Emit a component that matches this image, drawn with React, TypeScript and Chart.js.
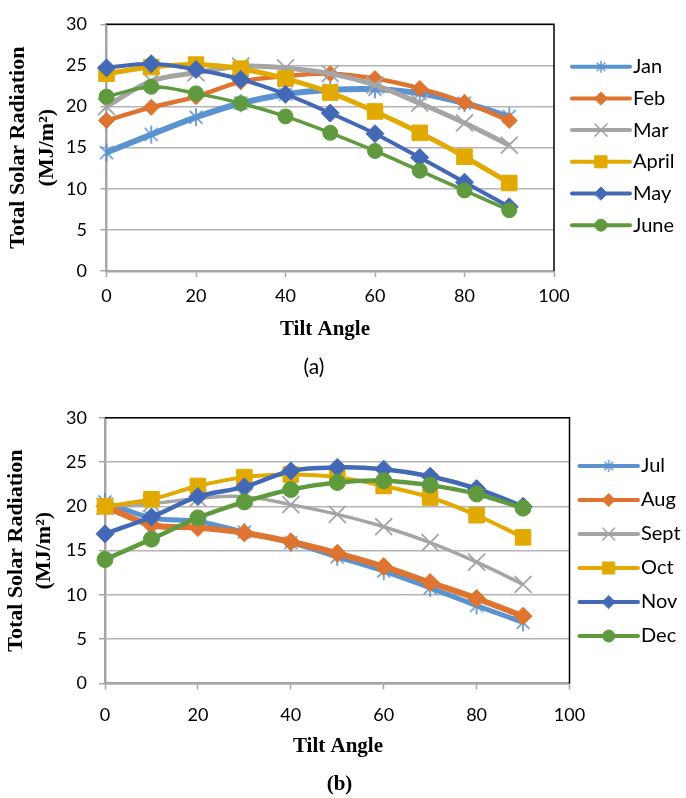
import React, { useEffect, useRef } from 'react';
import { Chart, registerables } from 'chart.js';
import { drawPoint } from 'chart.js/helpers';

Chart.register(...registerables);

// ---------- data ----------
const tiltAngles = [0, 10, 20, 30, 40, 50, 60, 70, 80, 90];

const monthsA = ['Jan', 'Feb', 'Mar', 'April', 'May', 'June'];
const janValues = [14.4, 16.6, 18.7, 20.4, 21.5, 22.0, 22.1, 21.6, 20.4, 18.8];
const febValues = [18.3, 19.9, 21.2, 23.0, 23.7, 24.0, 23.4, 22.2, 20.5, 18.3];
const marValues = [20.0, 23.1, 24.1, 24.9, 24.7, 24.0, 22.6, 20.4, 18.0, 15.3];
const aprValues = [24.0, 24.8, 25.1, 24.6, 23.4, 21.7, 19.4, 16.8, 13.9, 10.7];
const mayValues = [24.7, 25.2, 24.5, 23.3, 21.5, 19.2, 16.7, 13.8, 10.8, 7.8];
const junValues = [21.2, 22.4, 21.6, 20.4, 18.8, 16.8, 14.6, 12.2, 9.8, 7.4];

const monthsB = ['Jul', 'Aug', 'Sept', 'Oct', 'Nov', 'Dec'];
const julValues = [20.5, 18.7, 18.3, 17.1, 15.9, 14.3, 12.7, 10.8, 8.8, 6.9];
const augValues = [20.0, 17.9, 17.6, 17.0, 16.0, 14.7, 13.2, 11.4, 9.6, 7.6];
const sepValues = [20.0, 20.3, 20.9, 21.1, 20.2, 19.1, 17.7, 15.9, 13.7, 11.2];
const octValues = [20.0, 20.8, 22.3, 23.3, 23.6, 23.3, 22.3, 21.0, 19.0, 16.5];
const novValues = [16.9, 18.8, 21.1, 22.2, 24.0, 24.4, 24.2, 23.4, 22.0, 20.0];
const decValues = [14.0, 16.3, 18.7, 20.5, 21.9, 22.7, 22.9, 22.4, 21.4, 19.8];

const xMin = 0;
const xMax = 100;
const xStep = 20;
const yMin = 0;
const yMax = 30;
const yStep = 5;

const yTitleLines = ['Total Solar Radiation', '(MJ/m\u00B2)'];
const xTitle = 'Tilt Angle';
const captionA = '(a)';
const captionB = '(b)';

// ---------- styles ----------
const seriesColors = ['#5A93CF', '#DE7430', '#A5A5A5', '#E2AA00', '#4369B6', '#5F9B3E'];
const markerKinds = ['asterisk', 'rectRot', 'crossRot', 'rect', 'rectRot', 'circle'];
const lineWidthsA = [6, 4.5, 5, 5, 4, 3.5];
const markerRadiiA = [10, 8, 12, 11, 9, 7.5];
const lineWidthsB = [5, 6, 3.5, 4, 4.5, 4.5];
const markerRadiiB = [10, 9, 12, 11, 9, 8];
const legendRadii = [7, 6.5, 8.5, 8.5, 6.5, 6];

const GRID = '#B4B4B4';
const AXIS = '#A6A6A6';
const SERIF = '"Liberation Serif", "Times New Roman", serif';
const SANS = 'Lato, "Open Sans", sans-serif';

function makeAsterisk(color: string, size: number, lw: number): HTMLCanvasElement {
  const c = document.createElement('canvas');
  c.width = size;
  c.height = size;
  const ctx = c.getContext('2d')!;
  const m = size / 2;
  const r = size / 2 - 1;
  const d = r * 0.72;
  ctx.strokeStyle = color;
  ctx.lineWidth = lw;
  ctx.lineCap = 'butt';
  ctx.beginPath();
  ctx.moveTo(m, m - r);
  ctx.lineTo(m, m + r);
  ctx.moveTo(m - d, m - d);
  ctx.lineTo(m + d, m + d);
  ctx.moveTo(m + d, m - d);
  ctx.lineTo(m - d, m + d);
  ctx.stroke();
  return c;
}

type Spec = {
  top: number;
  height: number;
  padTop: number;
  padRight: number;
  padBottom: number;
  yAxisWidth: number;
  xAxisHeight: number;
  yTickPad: number;
  xTickPad: number;
  yTitleLineHeight: number;
  yTitlePadTop: number;
  names: string[];
  values: number[][];
  lineWidths: number[];
  radii: number[];
  legendX1: number;
  legendX2: number;
  legendTextX: number;
  legendY0: number;
  legendStep: number;
  captions: { text: string; x: number; y: number; font: string }[];
};

const specA: Spec = {
  top: 0,
  height: 390,
  padTop: 19,
  padRight: 132,
  padBottom: 79,
  yAxisWidth: 106.5,
  xAxisHeight: 40,
  yTickPad: 13.5,
  xTickPad: 8,
  yTitleLineHeight: 1.32,
  yTitlePadTop: 3.5,
  names: monthsA,
  values: [janValues, febValues, marValues, aprValues, mayValues, junValues],
  lineWidths: lineWidthsA,
  radii: markerRadiiA,
  legendX1: 572,
  legendX2: 630,
  legendTextX: 633,
  legendY0: 66.7,
  legendStep: 31.7,
  captions: [
    { text: xTitle, x: 325, y: 330, font: `bold 21px ${SERIF}` },
    { text: captionA, x: 314, y: 367, font: `21px ${SANS}` },
  ],
};

const specB: Spec = {
  top: 395,
  height: 403,
  padTop: 21,
  padRight: 116.5,
  padBottom: 64.5,
  yAxisWidth: 105,
  xAxisHeight: 50,
  yTickPad: 12,
  xTickPad: 15,
  yTitleLineHeight: 1.273,
  yTitlePadTop: 2.7,
  names: monthsB,
  values: [julValues, augValues, sepValues, octValues, novValues, decValues],
  lineWidths: lineWidthsB,
  radii: markerRadiiB,
  legendX1: 579.5,
  legendX2: 638,
  legendTextX: 641,
  legendY0: 71,
  legendStep: 34,
  captions: [
    { text: xTitle, x: 338, y: 352, font: `bold 21px ${SERIF}` },
    { text: captionB, x: 339.5, y: 390, font: `bold 21px ${SERIF}` },
  ],
};

function SolarChart({ spec }: { spec: Spec }) {
  const ref = useRef<HTMLCanvasElement | null>(null);

  useEffect(() => {
    const canvas = ref.current;
    if (!canvas) return;

    const plotStars = spec.radii.map((r, i) =>
      markerKinds[i] === 'asterisk' ? makeAsterisk(seriesColors[i], Math.round(r * 2), 1.7) : null
    );
    const legendStars = legendRadii.map((r, i) =>
      markerKinds[i] === 'asterisk' ? makeAsterisk(seriesColors[i], Math.round(r * 2), 1.4) : null
    );

    const n = spec.names.length;
    const datasets = spec.names.map((name, i) => {
      const kind = markerKinds[i];
      const isStroke = kind === 'crossRot';
      return {
        label: name,
        data: tiltAngles.map((a, j) => ({ x: a, y: spec.values[i][j] })),
        borderColor: seriesColors[i],
        backgroundColor: seriesColors[i],
        borderWidth: spec.lineWidths[i],
        tension: 0.35,
        pointStyle: kind === 'asterisk' ? plotStars[i] : kind,
        pointRadius: spec.radii[i],
        pointBorderWidth: isStroke ? 1.8 : 1,
        pointBorderColor: seriesColors[i],
        pointBackgroundColor: seriesColors[i],
        clip: false as const,
        order: n - i,
      };
    });

    const overlay = {
      id: 'overlay',
      afterDraw(chart: any) {
        const { ctx, chartArea: a } = chart;
        ctx.save();
        // plot-area frame (top and right edges)
        ctx.strokeStyle = '#000';
        ctx.lineWidth = 1.5;
        ctx.beginPath();
        ctx.moveTo(a.left, a.top);
        ctx.lineTo(a.right, a.top);
        ctx.lineTo(a.right, a.bottom);
        ctx.stroke();

        // legend
        spec.names.forEach((name, i) => {
          const y = spec.legendY0 + i * spec.legendStep;
          const color = seriesColors[i];
          ctx.strokeStyle = color;
          ctx.lineWidth = 4;
          ctx.lineCap = 'round';
          ctx.beginPath();
          ctx.moveTo(spec.legendX1, y);
          ctx.lineTo(spec.legendX2, y);
          ctx.stroke();
          const cx = (spec.legendX1 + spec.legendX2) / 2;
          const kind = markerKinds[i];
          if (kind === 'asterisk') {
            const img = legendStars[i]!;
            ctx.drawImage(img, cx - img.width / 2, y - img.height / 2);
          } else {
            ctx.fillStyle = color;
            ctx.strokeStyle = color;
            ctx.lineWidth = kind === 'crossRot' ? 1.5 : 1;
            drawPoint(ctx, { pointStyle: kind, radius: legendRadii[i], rotation: 0, borderWidth: ctx.lineWidth } as any, cx, y);
          }
          ctx.fillStyle = '#000';
          ctx.font = `20px ${SANS}`;
          ctx.textAlign = 'left';
          ctx.textBaseline = 'middle';
          ctx.fillText(name, spec.legendTextX, y);
        });

        // captions
        spec.captions.forEach((c) => {
          ctx.fillStyle = '#000';
          ctx.font = c.font;
          ctx.textAlign = 'center';
          ctx.textBaseline = 'middle';
          ctx.fillText(c.text, c.x, c.y);
        });
        ctx.restore();
      },
    };

    const chart = new Chart(canvas, {
      type: 'line',
      data: { datasets },
      options: {
        animation: false,
        responsive: false,
        events: [],
        layout: { padding: { left: 0, top: spec.padTop, right: spec.padRight, bottom: spec.padBottom } },
        plugins: { legend: { display: false }, tooltip: { enabled: false } },
        scales: {
          x: {
            type: 'linear',
            min: xMin,
            max: xMax,
            ticks: {
              stepSize: xStep,
              padding: spec.xTickPad,
              maxRotation: 0,
              color: '#000',
              font: { family: SANS, size: 18 },
            },
            grid: { drawOnChartArea: false, drawTicks: true, tickLength: 6, tickColor: AXIS, tickWidth: 1.5 },
            border: { display: true, color: AXIS, width: 2.5 },
            afterFit: (s: any) => {
              s.height = spec.xAxisHeight;
            },
          },
          y: {
            type: 'linear',
            min: yMin,
            max: yMax,
            ticks: {
              stepSize: yStep,
              padding: spec.yTickPad,
              color: '#000',
              font: { family: SANS, size: 18 },
            },
            grid: { color: GRID, lineWidth: 1.5, drawTicks: true, tickLength: 6, tickColor: AXIS, tickWidth: 1.5 },
            border: { display: true, color: AXIS, width: 2.5 },
            title: {
              display: true,
              text: yTitleLines,
              color: '#000',
              font: { family: SERIF, size: 22, weight: 'bold', lineHeight: spec.yTitleLineHeight },
              padding: { top: spec.yTitlePadTop, bottom: 0 },
            },
            afterFit: (s: any) => {
              s.width = spec.yAxisWidth;
            },
          },
        },
      } as any,
      plugins: [overlay],
    });

    let alive = true;
    const fonts = (document as any).fonts;
    if (fonts && fonts.load) {
      Promise.all([fonts.load(`18px Lato`), fonts.load(`bold 21px "Liberation Serif"`)]).then(() => {
        if (alive) chart.update();
      });
    }
    return () => {
      alive = false;
      chart.destroy();
    };
  }, [spec]);

  return (
    <canvas
      ref={ref}
      width={686}
      height={spec.height}
      style={{ position: 'absolute', left: 0, top: spec.top, width: 686, height: spec.height, display: 'block' }}
    />
  );
}

export default function App() {
  return (
    <div style={{ position: 'absolute', left: 0, top: 0, width: 686, height: 798, background: '#fff', overflow: 'hidden' }}>
      <SolarChart spec={specA} />
      <SolarChart spec={specB} />
    </div>
  );
}
